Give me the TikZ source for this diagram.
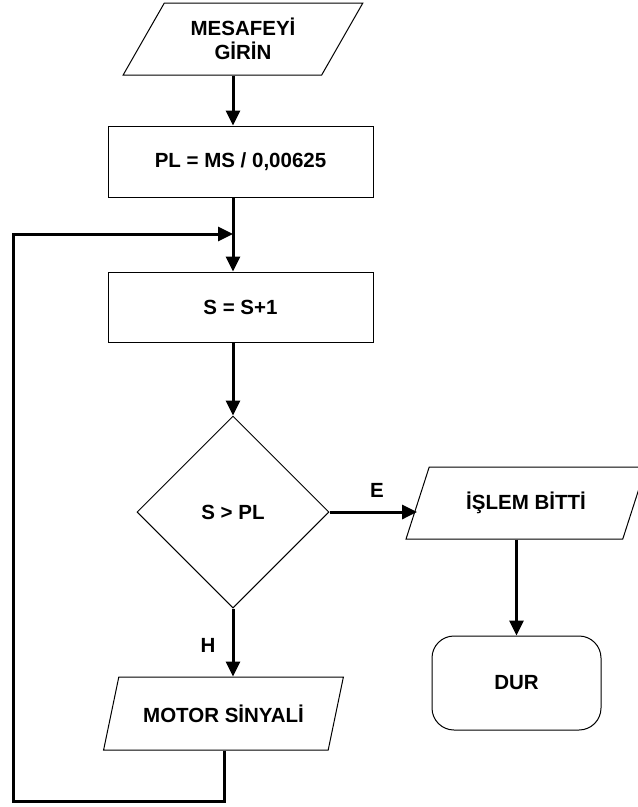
\documentclass[tikz,border=0pt]{standalone}
\usepackage{fontspec}
\setmainfont{Liberation Sans}
\usetikzlibrary{shapes.geometric,arrows.meta}
\begin{document}
\begin{tikzpicture}[x=1pt,y=-1pt,
  every node/.style={font=\fontsize{20.5}{24}\selectfont\bfseries, align=center},
  boxst/.style={draw, line width=1pt, rectangle, minimum width=265, minimum height=71, inner sep=0},
  parast/.style={draw, line width=1pt, trapezium, trapezium left angle=56.7, trapezium right angle=123.3,
     trapezium stretches=true, minimum width=240, minimum height=72, inner sep=0},
  decst/.style={draw, line width=1pt, diamond, minimum width=192, minimum height=192, inner sep=0},
  endst/.style={draw, line width=1pt, rectangle, rounded corners=22, minimum width=169, minimum height=94, inner sep=0},
  conn/.style={line width=3pt, -{Triangle[length=15,width=14]}},
  plainconn/.style={line width=3pt},
  lbl/.style={inner sep=0}]
\clip (0,0) rectangle (638,807);
\fill[white] (0,0) rectangle (638,807);
\coordinate (col) at (233,0);
\coordinate (lp) at (224,0);
\coordinate (bl) at (13,801);
\coordinate (join) at (233,234);
\node[parast] (in) at (243,39) {MESAFEYİ\\GİRİN};
\node[boxst] (pl) at (240.5,161.5) {PL = MS / 0,00625};
\node[boxst, minimum height=70] (s) at (240.5,307) {S = S+1};
\node[decst] (d) at (233,512) {S > PL};
\node[parast] (isl) at (526,503) {İŞLEM BİTTİ};
\node[endst] (dur) at (516.5,683) {DUR};
\node[parast, minimum height=73] (mot) at (223.5,713.5) {MOTOR SİNYALİ};
\node[lbl] (e) at (377,490) {E};
\node[lbl] (h) at (208,645) {H};
\draw[conn] (in.south -| col) -- (pl.north -| col);
\draw[plainconn] (pl.south -| col) -- (join);
\draw[conn] (join) -- (s.north -| col);
\draw[conn] (mot.south -| lp) |- (bl) |- (join);
\draw[conn] (s.south -| col) -- (d.north);
\draw[conn] (d.east) -- (d.east -| isl.west);
\draw[conn] (isl.south -| dur.north) -- (dur.north);
\draw[conn] (d.south) -- (mot.north -| d.south);
\end{tikzpicture}
\end{document}
